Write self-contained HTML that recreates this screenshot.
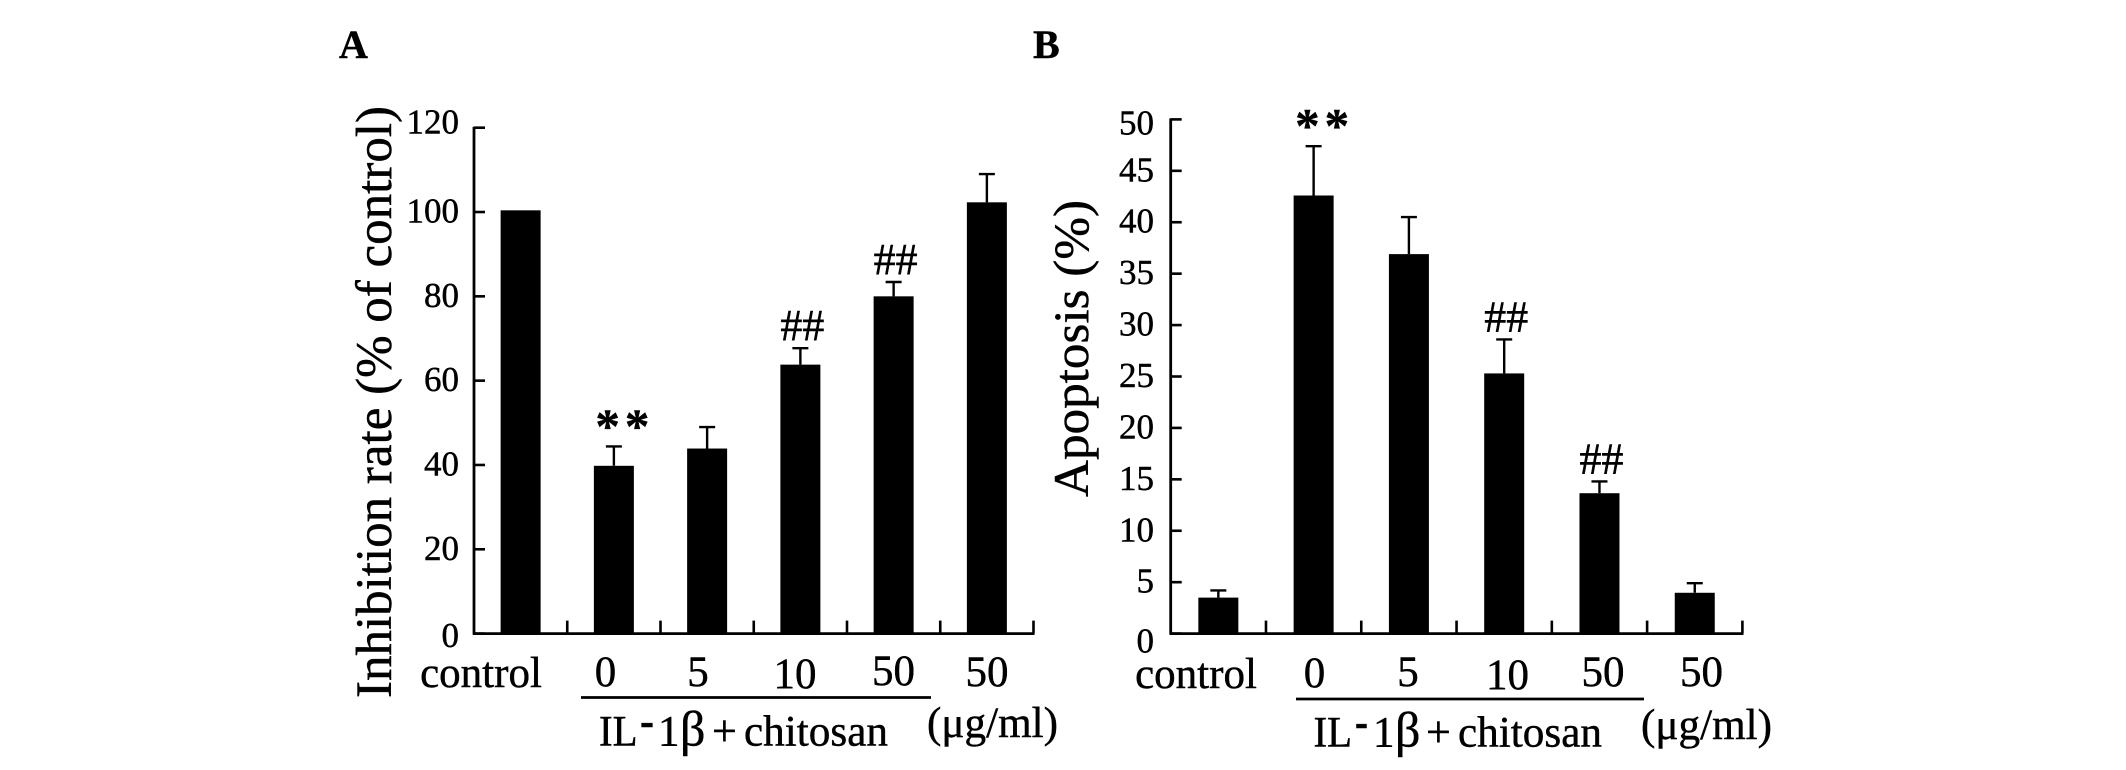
<!DOCTYPE html>
<html lang="en">
<head>
<meta charset="utf-8">
<title>Inhibition rate and apoptosis bar charts</title>
<style>
html,body{margin:0;padding:0;background:#fff;width:2126px;height:770px;overflow:hidden}
svg{display:block}
text{font-family:"Liberation Serif","Noto Serif CJK SC",serif;fill:#000;stroke:#000;stroke-width:.45px}
.xl{font-size:43px;text-anchor:middle}
.tl{font-size:35px;text-anchor:end}
</style>
</head>
<body>
<svg id="fig" xmlns="http://www.w3.org/2000/svg" width="2126" height="770" viewBox="0 0 2126 770">
  <rect x="0" y="0" width="2126" height="770" fill="#fff"/>

  <text x="339" y="58" font-size="40" font-weight="bold">A</text>
  <text x="1033" y="58" font-size="40" font-weight="bold">B</text>

  <text transform="translate(391,698) rotate(-90)" font-size="50.5" textLength="592" lengthAdjust="spacingAndGlyphs">Inhibition rate (% of control)</text>
  <text transform="translate(1088,497) rotate(-90)" font-size="49.4" textLength="297" lengthAdjust="spacingAndGlyphs">Apoptosis (%)</text>

  <g>
    <text class="xl" x="481" y="687">control</text>
    <text class="xl" x="605.5" y="686">0</text>
    <text class="xl" x="698" y="686">5</text>
    <text class="xl" x="795" y="688">10</text>
    <text class="xl" x="893.5" y="685">50</text>
    <text class="xl" x="987" y="686">50</text>
  </g>
  <g>
    <text class="xl" x="1196" y="688">control</text>
    <text class="xl" x="1314.5" y="687">0</text>
    <text class="xl" x="1408" y="686">5</text>
    <text class="xl" x="1507.5" y="689">10</text>
    <text class="xl" x="1603" y="686">50</text>
    <text class="xl" x="1701.5" y="686">50</text>
  </g>

  <line x1="581" x2="931" y1="697.5" y2="697.5" stroke="#000" stroke-width="2.8"/>
  <line x1="1296" x2="1644" y1="699" y2="699" stroke="#000" stroke-width="2.8"/>

  <g font-size="43">
    <text x="599" y="745.5" textLength="38.5" lengthAdjust="spacingAndGlyphs">IL</text>
    <text x="640" y="736" font-weight="bold" font-size="46" textLength="14" lengthAdjust="spacingAndGlyphs">-</text>
    <text x="658" y="745.5">1</text>
    <text x="680" y="745.5" font-size="50">β</text>
    <text x="712" y="745.5" font-size="44">+</text>
    <text x="744" y="745.5" textLength="144" lengthAdjust="spacingAndGlyphs">chitosan</text>
  </g>
  <g font-size="43">
    <text x="1313.5" y="746.5" textLength="38.5" lengthAdjust="spacingAndGlyphs">IL</text>
    <text x="1355" y="737" font-weight="bold" font-size="46" textLength="13" lengthAdjust="spacingAndGlyphs">-</text>
    <text x="1373" y="746.5">1</text>
    <text x="1395" y="746.5" font-size="50">β</text>
    <text x="1426" y="746.5" font-size="44">+</text>
    <text x="1458" y="746.5" textLength="144" lengthAdjust="spacingAndGlyphs">chitosan</text>
  </g>

  <text x="927" y="737" font-size="43" textLength="131" lengthAdjust="spacingAndGlyphs">(μg/ml)</text>
  <text x="1641" y="739" font-size="43" textLength="131" lengthAdjust="spacingAndGlyphs">(μg/ml)</text>

  <g id="chart-a"></g>
  <g id="chart-b"></g>
</svg>
<script>
const categories = ['control', 'il1b-chitosan-0', 'il1b-chitosan-5', 'il1b-chitosan-10', 'il1b-chitosan-50', 'chitosan-50'];

const inhibitionValues = [100.4, 39.8, 43.9, 63.8, 80, 102.3];
const inhibitionErrorTops = [100.4, 44.4, 49, 67.7, 83.4, 109];
const inhibitionMarks = ['', '**', '', '##', '##', ''];
const inhibitionTicks = [0, 20, 40, 60, 80, 100, 120];

const apoptosisValues = [3.5, 42.6, 36.9, 25.3, 13.65, 3.97];
const apoptosisErrorTops = [4.2, 47.4, 40.5, 28.6, 14.8, 4.9];
const apoptosisMarks = ['', '**', '', '##', '##', ''];
const apoptosisTicks = [0, 5, 10, 15, 20, 25, 30, 35, 40, 45, 50];

const NS = 'http://www.w3.org/2000/svg';
function add(parent, tag, attrs, txt) {
  const el = document.createElementNS(NS, tag);
  for (const k in attrs) el.setAttribute(k, attrs[k]);
  if (txt !== undefined) el.textContent = txt;
  parent.appendChild(el);
  return el;
}

function drawChart(g, left, right, top, bottom, maxV, ticks, values, errors, marks, suffix, labelRight, zeroOffset, topOffset) {
  const y = v => bottom - (v / maxV) * (bottom - top);
  const band = (right - left) / categories.length;
  const barW = 40;
  const cx = i => left + band * (i + 0.5);

  categories.forEach((c, i) => {
    if (errors[i] > values[i]) {
      const err = add(g, 'path', {
        d: 'M' + cx(i) + ' ' + y(values[i]) + 'V' + y(errors[i]) + 'M' + (cx(i) - 8) + ' ' + y(errors[i]) + 'H' + (cx(i) + 8),
        stroke: '#000', 'stroke-width': 2.4, fill: 'none'
      });
      
      
    }
    const bar = add(g, 'rect', {
      x: cx(i) - barW / 2, y: y(values[i]), width: barW, height: bottom - y(values[i]), fill: '#000'
    });
    
    

    if (marks[i] === '**') {
      const m = add(g, 'text', {
        x: cx(i) + 11, y: y(errors[i]) - 4, 'font-size': 49, 'font-weight': 'bold',
        'text-anchor': 'middle', 'letter-spacing': 5
      }, marks[i]);
      
      
    } else if (marks[i] === '##') {
      const m = add(g, 'text', {
        x: cx(i) + 2, y: y(errors[i]) - 8, 'font-size': 44, 'text-anchor': 'middle'
      }, marks[i]);
      
      
    }
  });

  const yAxis = add(g, 'line', { x1: left, x2: left, y1: top - 1, y2: bottom + 1, stroke: '#000', 'stroke-width': 2.8 });
  
  

  const xAxis = add(g, 'line', { x1: left - 1, x2: right + 1, y1: bottom, y2: bottom, stroke: '#000', 'stroke-width': 2.8 });
  
  

  ticks.forEach(t => {
    const tick = add(g, 'line', { x1: left, x2: left + 11, y1: y(t), y2: y(t), stroke: '#000', 'stroke-width': 2.6 });
    
    
    const off = t === 0 ? zeroOffset : (t === maxV ? topOffset : 10.5);
    const label = add(g, 'text', { class: 'tl', x: labelRight, y: y(t) + off }, String(t));
    
    
  });

  for (let i = 1; i <= categories.length; i++) {
    const xt = left + band * i;
    const tick = add(g, 'line', { x1: xt, x2: xt, y1: bottom, y2: bottom - 13, stroke: '#000', 'stroke-width': 2.6 });
    
    
  }
}

drawChart(document.getElementById('chart-a'), 474, 1033.5, 127.7, 633.6, 120,
  inhibitionTicks, inhibitionValues, inhibitionErrorTops, inhibitionMarks, '-a', 459, 13.5, 6);
drawChart(document.getElementById('chart-b'), 1170.7, 1742.4, 119.4, 633.6, 50,
  apoptosisTicks, apoptosisValues, apoptosisErrorTops, apoptosisMarks, '-b', 1154, 19, 15);
</script>
</body>
</html>
